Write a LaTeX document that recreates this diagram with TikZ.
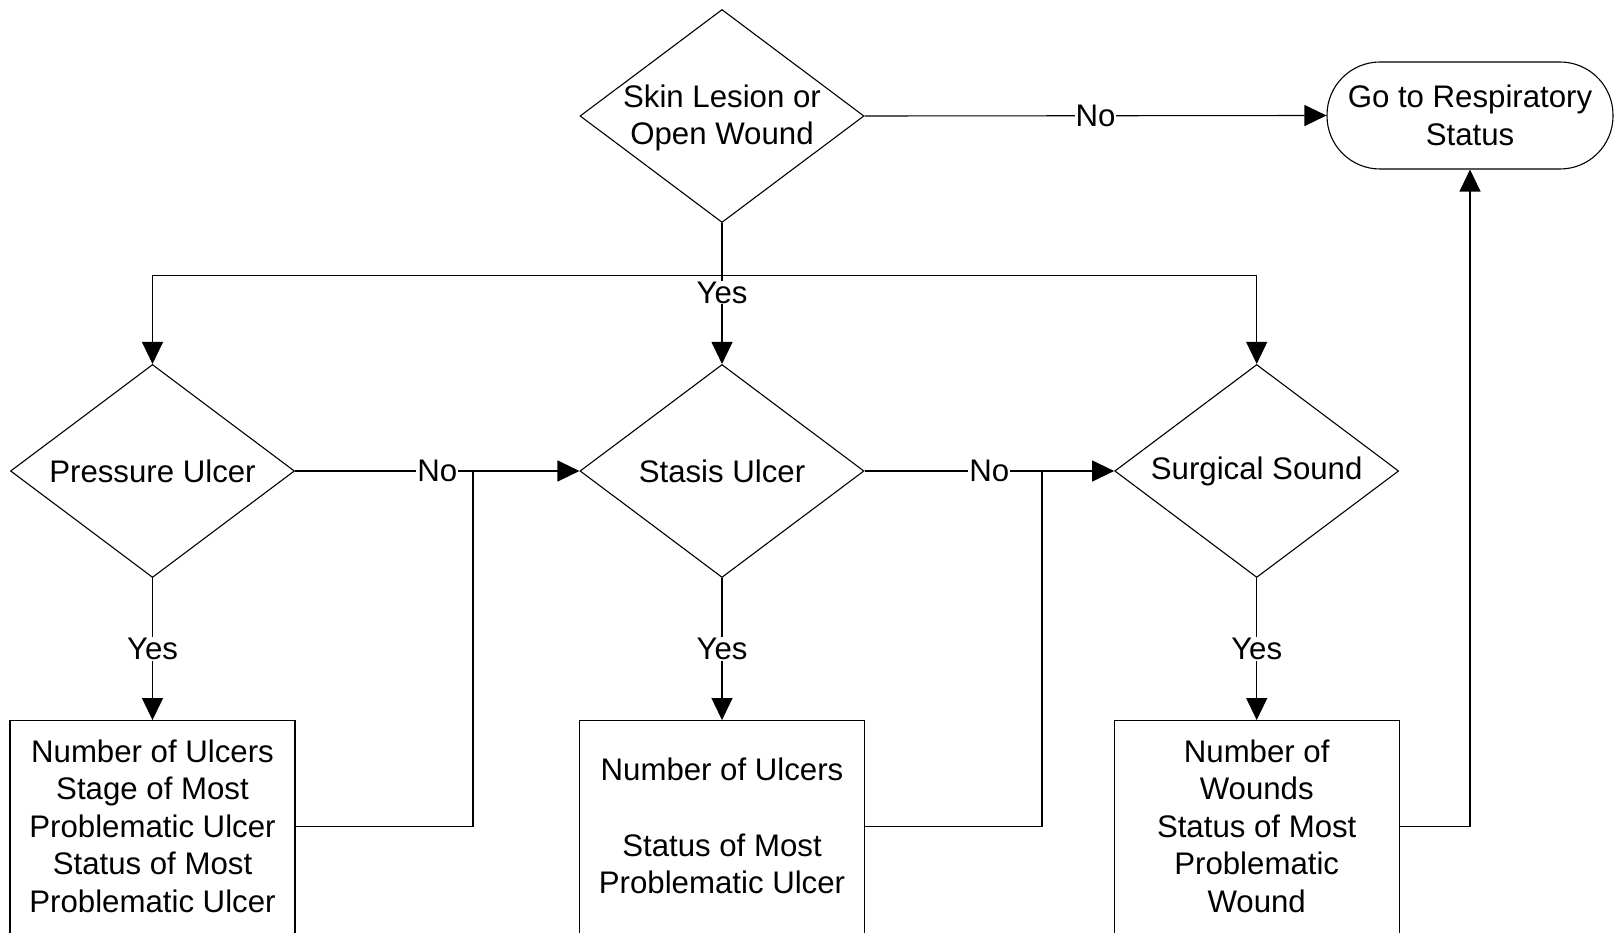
\documentclass[tikz,border=0pt]{standalone}
\usepackage{fontspec}
\setmainfont{Liberation Sans}
\usetikzlibrary{shapes.geometric,arrows.meta}

\tikzset{
  decision/.style={shape=diamond, draw, line width=1.1pt, inner sep=0pt,
    minimum width=284pt, minimum height=213pt},
  terminal/.style={draw, line width=1.1pt, rounded corners=53pt, inner sep=0pt,
    minimum width=286pt, minimum height=107pt, align=center},
  infobox/.style={draw, line width=1.1pt, inner sep=0pt,
    minimum width=285pt, minimum height=216pt},
  boxtext/.style={align=center, yshift=2.5pt},
  flow/.style={line width=1.1pt, -{Triangle[length=22pt,width=21pt]}},
  link/.style={line width=1.1pt},
  answer/.style={fill=white, inner sep=1pt}
}

\begin{document}
\begin{tikzpicture}[x=1pt, y=-1pt, font=\fontsize{31.2pt}{37.6pt}\selectfont]
\useasboundingbox (0,0) rectangle (1618,933);

% decisions
\node[decision, label={[align=center, yshift=-2pt]center:Skin Lesion or\\Open Wound}] (d0) at (722,116) {};
\node[decision, label=center:Pressure Ulcer] (d1) at (152.5,471) {};
\node[decision, label=center:Stasis Ulcer] (d2) at (722,471) {};
\node[decision, label=center:Surgical Sound] (d3) at (1256.7,471) {};

% exit
\node[terminal] (t) at (1470,115.5) {Go to Respiratory\\Status};

% data boxes (run past the lower edge)
\node[infobox, label={[boxtext]center:Number of Ulcers\\Stage of Most\\Problematic Ulcer\\Status of Most\\Problematic Ulcer}] (b1) at (152.5,828.6) {};
\node[infobox, label={[boxtext]center:Number of Ulcers\\~\\Status of Most\\Problematic Ulcer}] (b2) at (722,828.6) {};
\node[infobox, label={[boxtext]center:Number of\\Wounds\\Status of Most\\Problematic\\Wound}] (b3) at (1256.7,828.6) {};

% junction points
\coordinate (j0) at (722,275.5);
\coordinate (m1) at (473,471);
\coordinate (m2) at (1042,471);

% top decision
\draw[flow] (d0.east) -- node[answer]{No} (t.west);
\draw[flow] (d0.south) -- node[answer, pos=0.493]{Yes} (d2.north);
\draw[flow] (j0) -| (d1.north);
\draw[flow] (j0) -| (d3.north);

% chain of ulcer types
\draw[flow] (d1.east) -- node[answer]{No} (d2.west);
\draw[flow] (d2.east) -- node[answer]{No} (d3.west);

% yes branches
\draw[flow] (d1.south) -- node[answer]{Yes} (b1.north);
\draw[flow] (d2.south) -- node[answer]{Yes} (b2.north);
\draw[flow] (d3.south) -- node[answer]{Yes} (b3.north);

% returns
\draw[link] ([yshift=2pt]b1.east) -| (m1);
\draw[link] ([yshift=2pt]b2.east) -| (m2);
\draw[flow] ([yshift=2pt]b3.east) -| (t.south);
\end{tikzpicture}
\end{document}
